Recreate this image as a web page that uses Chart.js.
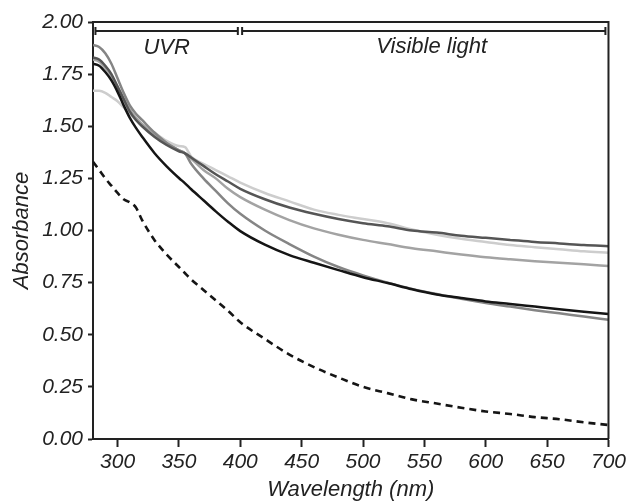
<!DOCTYPE html>
<html>
<head>
<meta charset="utf-8">
<script src="https://cdn.jsdelivr.net/npm/chart.js@4/dist/chart.umd.min.js"></script>
<style>
  body { margin: 0; background: #fff; }
  canvas { display: block; }
</style>
</head>
<body>
<canvas id="myChart" width="629" height="502"></canvas>
<script>
// wavelength (nm) sample points shared by every curve
const wavelengths = [280, 285, 290, 295, 300, 305, 310, 315, 320, 330, 340, 350, 355, 360, 370, 380, 390, 400,
  420, 440, 460, 480, 500, 520, 540, 560, 580, 600, 620, 640, 660, 680, 700];

const blackLine = [1.80, 1.79, 1.76, 1.72, 1.665, 1.60, 1.54, 1.492, 1.45, 1.372, 1.308, 1.252, 1.226, 1.198, 1.145, 1.092, 1.042, 0.997,
  0.932, 0.882, 0.845, 0.81, 0.776, 0.748, 0.718, 0.693, 0.676, 0.66, 0.648, 0.635, 0.622, 0.61, 0.60];
const midGrayLine = [1.89, 1.88, 1.85, 1.80, 1.73, 1.66, 1.60, 1.56, 1.53, 1.47, 1.42, 1.385, 1.37, 1.32, 1.25, 1.19, 1.13, 1.08,
  1.00, 0.935, 0.875, 0.825, 0.785, 0.75, 0.72, 0.695, 0.672, 0.652, 0.635, 0.618, 0.603, 0.587, 0.572];
const darkGrayLine = [1.83, 1.82, 1.79, 1.75, 1.69, 1.63, 1.57, 1.53, 1.50, 1.45, 1.41, 1.38, 1.37, 1.35, 1.31, 1.27, 1.235, 1.20,
  1.15, 1.11, 1.08, 1.055, 1.035, 1.02, 1.00, 0.99, 0.975, 0.965, 0.955, 0.945, 0.938, 0.93, 0.925];
const paleGrayLine = [1.82, 1.81, 1.78, 1.74, 1.69, 1.63, 1.58, 1.54, 1.51, 1.46, 1.42, 1.385, 1.37, 1.345, 1.29, 1.25, 1.20, 1.16,
  1.10, 1.05, 1.01, 0.98, 0.955, 0.935, 0.915, 0.90, 0.885, 0.872, 0.862, 0.853, 0.845, 0.838, 0.83];
const lightGrayLine = [1.67, 1.67, 1.66, 1.64, 1.62, 1.59, 1.56, 1.53, 1.51, 1.47, 1.43, 1.405, 1.40, 1.355, 1.32, 1.29, 1.26, 1.23,
  1.18, 1.14, 1.10, 1.075, 1.055, 1.035, 1.005, 0.98, 0.96, 0.945, 0.93, 0.92, 0.91, 0.90, 0.893];
const dashedLine = [1.33, 1.29, 1.25, 1.215, 1.18, 1.15, 1.135, 1.11, 1.05, 0.955, 0.885, 0.825, 0.795, 0.765, 0.715, 0.665, 0.615, 0.56,
  0.48, 0.405, 0.345, 0.295, 0.25, 0.22, 0.19, 0.17, 0.15, 0.132, 0.12, 0.105, 0.095, 0.08, 0.067];

const xTickValues = [300, 350, 400, 450, 500, 550, 600, 650, 700];
const yTickValues = [0, 0.25, 0.5, 0.75, 1, 1.25, 1.5, 1.75, 2];

// spectral bands shown at the top of the plot
const bandLabels = ["UVR", "Visible light"];
const bandRanges = [[282, 398], [401.5, 697.5]];

const FONT = "'Liberation Sans', Arial, sans-serif";
const INK = "#222";

function toPoints(values) {
  return values.map((v, i) => ({ x: wavelengths[i], y: v }));
}

function makeSet(values, color, dash) {
  return {
    data: toPoints(values),
    borderColor: color,
    borderWidth: dash ? 2.6 : 2.5,
    borderDash: dash || [],
    pointRadius: 0,
    fill: false,
    cubicInterpolationMode: "monotone"
  };
}

const bandPlugin = {
  id: "bands",
  afterDraw(chart) {
    const ctx = chart.ctx;
    const x = chart.scales.x;
    const y = chart.scales.y;
    const area = chart.chartArea;

    // box around the plot
    ctx.save();
    ctx.strokeStyle = INK;
    ctx.lineWidth = 2;
    ctx.beginPath();
    ctx.moveTo(area.left, area.top);
    ctx.lineTo(area.right, area.top);
    ctx.lineTo(area.right, area.bottom);
    ctx.stroke();

    const by = y.getPixelForValue(1.957);
    bandRanges.forEach(r => {
      const x0 = x.getPixelForValue(r[0]);
      const x1 = x.getPixelForValue(r[1]);
      ctx.beginPath();
      ctx.moveTo(x0, by);
      ctx.lineTo(x1, by);
      ctx.moveTo(x0, by - 4);
      ctx.lineTo(x0, by + 4);
      ctx.moveTo(x1, by - 4);
      ctx.lineTo(x1, by + 4);
      ctx.stroke();
    });

    ctx.fillStyle = INK;
    ctx.font = "italic 22px " + FONT;
    ctx.textAlign = "center";
    ctx.textBaseline = "middle";
    ctx.fillText(bandLabels[0], x.getPixelForValue(340), y.getPixelForValue(1.875));
    ctx.fillText(bandLabels[1], x.getPixelForValue(556), y.getPixelForValue(1.88));
    ctx.restore();
  }
};

const ctx = document.getElementById("myChart").getContext("2d");

const chart = new Chart(ctx, {
  type: "line",
  data: {
    datasets: [
      makeSet(blackLine, "#151515"),
      makeSet(darkGrayLine, "#555555"),
      makeSet(midGrayLine, "#858585"),
      makeSet(paleGrayLine, "#a3a3a3"),
      makeSet(lightGrayLine, "#cdcdcd"),
      makeSet(dashedLine, "#151515", [7, 5])
    ]
  },
  options: {
    responsive: false,
    animation: false,
    layout: { padding: { top: 22, right: 19, left: 0, bottom: 0 } },
    plugins: {
      legend: { display: false },
      tooltip: { enabled: false }
    },
    scales: {
      x: {
        type: "linear",
        min: 280,
        max: 700,
        afterBuildTicks(scale) {
          scale.ticks = xTickValues.map(v => ({ value: v }));
        },
        afterFit(scale) {
          scale.height = 63;
        },
        grid: { drawOnChartArea: false, drawTicks: true, tickLength: 8, tickWidth: 2, tickColor: INK },
        border: { display: true, color: INK, width: 2 },
        ticks: {
          color: INK,
          padding: 3,
          maxRotation: 0,
          font: { family: FONT, size: 21, style: "italic" }
        },
        title: {
          display: true,
          text: "Wavelength (nm)",
          color: INK,
          padding: { top: 0, bottom: 1 },
          font: { family: FONT, size: 22, style: "italic", lineHeight: 1 }
        }
      },
      y: {
        min: 0,
        max: 2,
        afterBuildTicks(scale) {
          scale.ticks = yTickValues.map(v => ({ value: v }));
        },
        afterFit(scale) {
          scale.width = 93;
        },
        grid: { drawOnChartArea: false, drawTicks: true, tickLength: 5, tickWidth: 2, tickColor: INK },
        border: { display: true, color: INK, width: 2 },
        ticks: {
          color: INK,
          padding: 5,
          font: { family: FONT, size: 21, style: "italic" },
          callback: v => v.toFixed(2)
        },
        title: {
          display: true,
          text: "Absorbance",
          color: INK,
          padding: { top: 11, bottom: 0 },
          font: { family: FONT, size: 22, style: "italic", lineHeight: 1 }
        }
      }
    }
  },
  plugins: [bandPlugin]
});
</script>
</body>
</html>
